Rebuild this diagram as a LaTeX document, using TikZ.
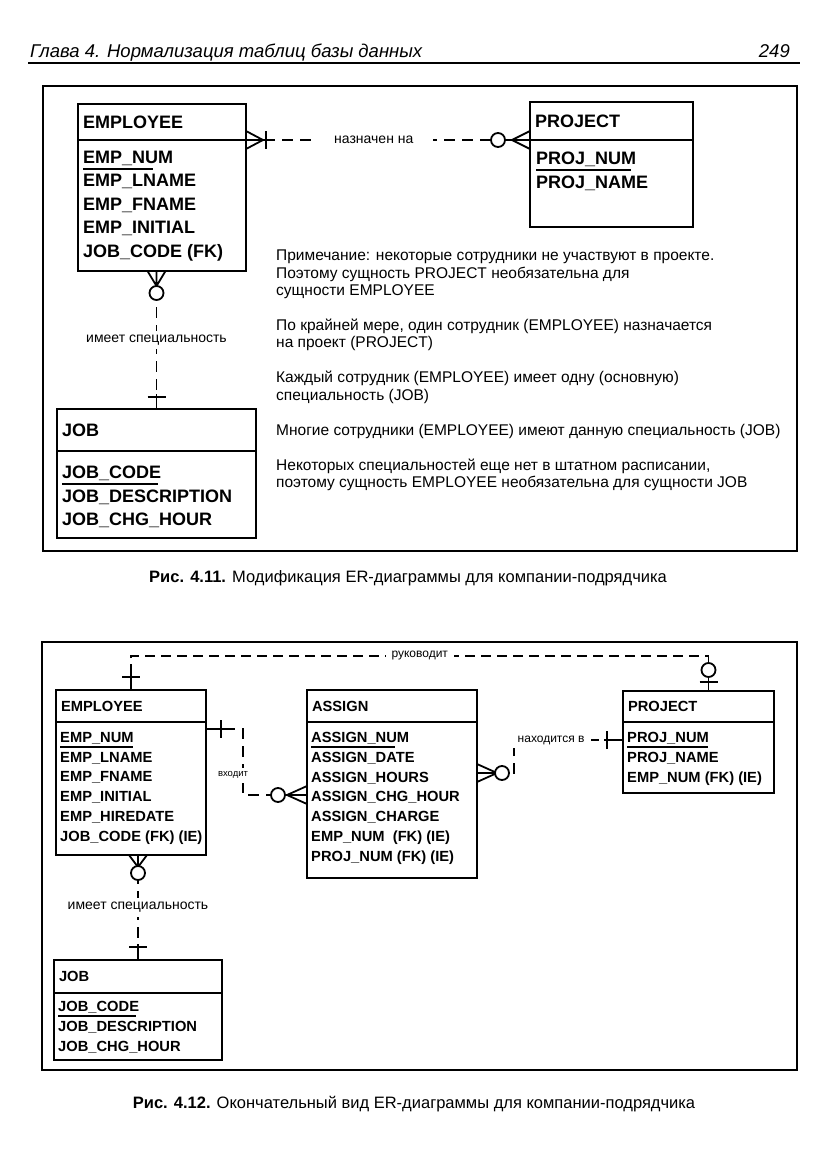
\documentclass[tikz,border=0pt]{standalone}
\usepackage{fontspec}
\setmainfont{Liberation Sans}
\usepackage{tikz}
\usetikzlibrary{positioning}

\newcommand{\entA}{\bfseries\fontsize{18}{23.4}\selectfont}
\newcommand{\entB}{\bfseries\fontsize{14.7}{19.8}\selectfont}
\newcommand{\notesz}{\fontsize{15.5}{17.2}\selectfont}
\newcommand{\lblA}{\fontsize{14}{16}\selectfont}
\newcommand{\lblB}{\fontsize{12}{14}\selectfont}
\newcommand{\lblC}{\fontsize{9.5}{11}\selectfont}
\newcommand{\capsz}{\fontsize{16.5}{19}\selectfont}
\newcommand{\headsz}{\fontsize{18.5}{22}\selectfont}

\tikzset{
    pics/ercrow/.style={code={\draw[symb] (0,-9) -- (#1,0) -- (0,9) (0,0) -- (#1,0);}},
    pics/erbar/.style={code={\draw[symb] (0,0) -- (#1+3,0) (#1,-9) -- (#1,9);}},
    pics/erring/.style={code={\draw[symb] (0,0) -- (#1,0); \draw[symb, fill=white] (#1,0) circle (7pt);}}
}

\begin{document}
\begin{tikzpicture}[x=1pt, y=-1pt,
    frame/.style={draw, line width=1.2pt},
    ehead/.style={draw, line width=2.2pt, outer sep=0pt, inner xsep=5pt, inner ysep=0pt, align=left, anchor=north west},
    ebody/.style={draw, line width=2.2pt, outer sep=0pt, inner sep=0pt},
    eattr/.style={inner sep=0pt, align=left},
    pk/.style={line width=1.1pt},
    rel/.style={line width=1.4pt, dash pattern=on 11pt off 7pt},
    lbl/.style={fill=white, inner xsep=6pt, inner ysep=4pt},
    symb/.style={line width=1.8pt, solid}
]
    \useasboundingbox (0,0) rectangle (831,1175);

    % page head
    \node [anchor=base west, inner sep=0pt, font=\headsz\itshape] (chap) at (30,57) {Глава 4. Нормализация таблиц базы данных};
    \node [anchor=base east, inner sep=0pt, font=\headsz\itshape] (page) at (790,57) {249};
    \draw [line width=2pt] (28,63) -- (800,63);

    % figure 4.11
    \draw [frame] (43,86) rectangle (797,551);

    \node [ehead, font=\entA, text width=158pt, minimum height=36pt] (emp1h) at (78,104) {EMPLOYEE};
    \node [ebody, minimum width=168pt, minimum height=131pt, below=0pt of emp1h] (emp1b) {};
    \node [eattr, font=\entA, below right=11pt and 5pt of emp1b.north west] (emp1a) {EMP\_NUM\\EMP\_LNAME\\EMP\_FNAME\\EMP\_INITIAL\\JOB\_CODE (FK)};
    \draw [pk] (emp1a.north west) ++(0,18) -- ++(70,0);

    \node [ehead, font=\entA, text width=153pt, minimum height=38pt] (proj1h) at (530,102) {PROJECT};
    \node [ebody, minimum width=163pt, minimum height=87pt, below=0pt of proj1h] (proj1b) {};
    \node [eattr, font=\entA, below right=12pt and 6pt of proj1b.north west] (proj1a) {PROJ\_NUM\\PROJ\_NAME};
    \draw [pk] (proj1a.north west) ++(0,18) -- ++(95,0);

    \node [ehead, font=\entA, text width=189pt, minimum height=42pt] (job1h) at (57,409) {JOB};
    \node [ebody, minimum width=199pt, minimum height=87pt, below=0pt of job1h] (job1b) {};
    \node [eattr, font=\entA, below right=15pt and 5pt of job1b.north west] (job1a) {JOB\_CODE\\JOB\_DESCRIPTION\\JOB\_CHG\_HOUR};
    \draw [pk] (job1a.north west) ++(0,18) -- ++(96,0);

    \draw [rel] (emp1h.south east) -- node [lbl, font=\lblA, inner xsep=20pt, pos=0.45] {назначен на} (proj1h.south west);
    \pic at (emp1h.south east) {ercrow=17};
    \pic at (emp1h.south east) {erbar=20};
    \pic [rotate=180] at (proj1h.south west) {ercrow=18};
    \pic [rotate=180] at (proj1h.south west) {erring=32};

    \draw [rel] (job1h.north |- emp1b.south) -- node [lbl, font=\lblA] {имеет специальность} (job1h.north);
    \pic [rotate=-90] at (job1h.north |- emp1b.south) {ercrow=15};
    \pic [rotate=-90] at (job1h.north |- emp1b.south) {erring=22};
    \pic [rotate=90] at (job1h.north) {erbar=12};

    \node [anchor=north west, align=left, inner sep=0pt, font=\notesz] (notes) at (276,250) {%
        Примечание: некоторые сотрудники не участвуют в проекте.\\
        Поэтому сущность PROJECT необязательна для\\
        сущности EMPLOYEE\\[18pt]
        По крайней мере, один сотрудник (EMPLOYEE) назначается\\
        на проект (PROJECT)\\[18pt]
        Каждый сотрудник (EMPLOYEE) имеет одну (основную)\\
        специальность (JOB)\\[18pt]
        Многие сотрудники (EMPLOYEE) имеют данную специальность (JOB)\\[18pt]
        Некоторых специальностей еще нет в штатном расписании,\\
        поэтому сущность EMPLOYEE необязательна для сущности JOB};

    \node [font=\capsz] (cap1) at (408,578) {\textbf{Рис. 4.11.} Модификация ER-диаграммы для компании-подрядчика};

    % figure 4.12
    \draw [frame] (42,642) rectangle (797,1070);

    \node [ehead, font=\entB, text width=140pt, minimum height=32pt] (emp2h) at (56,690) {EMPLOYEE};
    \node [ebody, minimum width=150pt, minimum height=133pt, below=0pt of emp2h] (emp2b) {};
    \node [eattr, font=\entB, below right=10pt and 4pt of emp2b.north west] (emp2a) {EMP\_NUM\\EMP\_LNAME\\EMP\_FNAME\\EMP\_INITIAL\\EMP\_HIREDATE\\JOB\_CODE (FK) (IE)};
    \draw [pk] (emp2a.north west) ++(0,15) -- ++(73,0);

    \node [ehead, font=\entB, text width=160pt, minimum height=32pt] (asgh) at (307,690) {ASSIGN};
    \node [ebody, minimum width=170pt, minimum height=156pt, below=0pt of asgh] (asgb) {};
    \node [eattr, font=\entB, below right=10pt and 4pt of asgb.north west] (asga) {ASSIGN\_NUM\\ASSIGN\_DATE\\ASSIGN\_HOURS\\ASSIGN\_CHG\_HOUR\\ASSIGN\_CHARGE\\EMP\_NUM~~(FK) (IE)\\PROJ\_NUM (FK) (IE)};
    \draw [pk] (asga.north west) ++(0,15) -- ++(84,0);

    \node [ehead, font=\entB, text width=141pt, minimum height=31pt] (proj2h) at (623,691) {PROJECT};
    \node [ebody, minimum width=151pt, minimum height=71pt, below=0pt of proj2h] (proj2b) {};
    \node [eattr, font=\entB, below right=10pt and 4pt of proj2b.north west] (proj2a) {PROJ\_NUM\\PROJ\_NAME\\EMP\_NUM (FK) (IE)};
    \draw [pk] (proj2a.north west) ++(0,15) -- ++(81,0);

    \node [ehead, font=\entB, text width=158pt, minimum height=33pt] (job2h) at (54,960) {JOB};
    \node [ebody, minimum width=168pt, minimum height=67pt, below=0pt of job2h] (job2b) {};
    \node [eattr, font=\entB, below right=8pt and 4pt of job2b.north west] (job2a) {JOB\_CODE\\JOB\_DESCRIPTION\\JOB\_CHG\_HOUR};
    \draw [pk] (job2a.north west) ++(0,15) -- ++(78,0);

    % manages
    \coordinate (rtop) at (0,656);
    \coordinate (p2top) at ([xshift=10pt]proj2h.north);
    \draw [rel, dash pattern=on 10pt off 6pt] (emp2h.north) -- (emp2h.north |- rtop) -- node [lbl, font=\lblB] {руководит} (p2top |- rtop) -- (p2top);
    \pic [rotate=90] at (emp2h.north) {erbar=13};
    \pic [rotate=90] at (p2top) {erbar=9};
    \pic [rotate=90] at (p2top) {erring=21};

    % enters
    \coordinate (vx) at ([yshift=-7pt]emp2b.north east);
    \coordinate (va) at ([yshift=-73pt]asgb.north west);
    \draw [rel] (vx) -- ++(37,0) |- node [lbl, font=\lblC, pos=0.35, xshift=-10pt] {входит} (va);
    \pic at (vx) {erbar=15};
    \pic [rotate=180] at (va) {ercrow=20};
    \pic [rotate=180] at (va) {erring=29};

    % located in
    \coordinate (na) at ([yshift=-51pt]asgb.north east);
    \coordinate (nb) at ([yshift=-18pt]proj2b.north west);
    \draw [rel] (na) -- ++(37,0) |- node [lbl, font=\lblB, pos=0.5, anchor=west, xshift=-3pt] {находится в} (nb);
    \pic at (na) {ercrow=20};
    \pic at (na) {erring=25};
    \pic [rotate=180] at (nb) {erbar=16};

    % has job
    \draw [rel] (job2h.north |- emp2b.south) -- node [lbl, font=\lblA] {имеет специальность} (job2h.north);
    \pic [rotate=-90] at (job2h.north |- emp2b.south) {ercrow=12};
    \pic [rotate=-90] at (job2h.north |- emp2b.south) {erring=18};
    \pic [rotate=90] at (job2h.north) {erbar=13};

    \node [font=\capsz] (cap2) at (414,1104) {\textbf{Рис. 4.12.} Окончательный вид ER-диаграммы для компании-подрядчика};
\end{tikzpicture}
\end{document}
